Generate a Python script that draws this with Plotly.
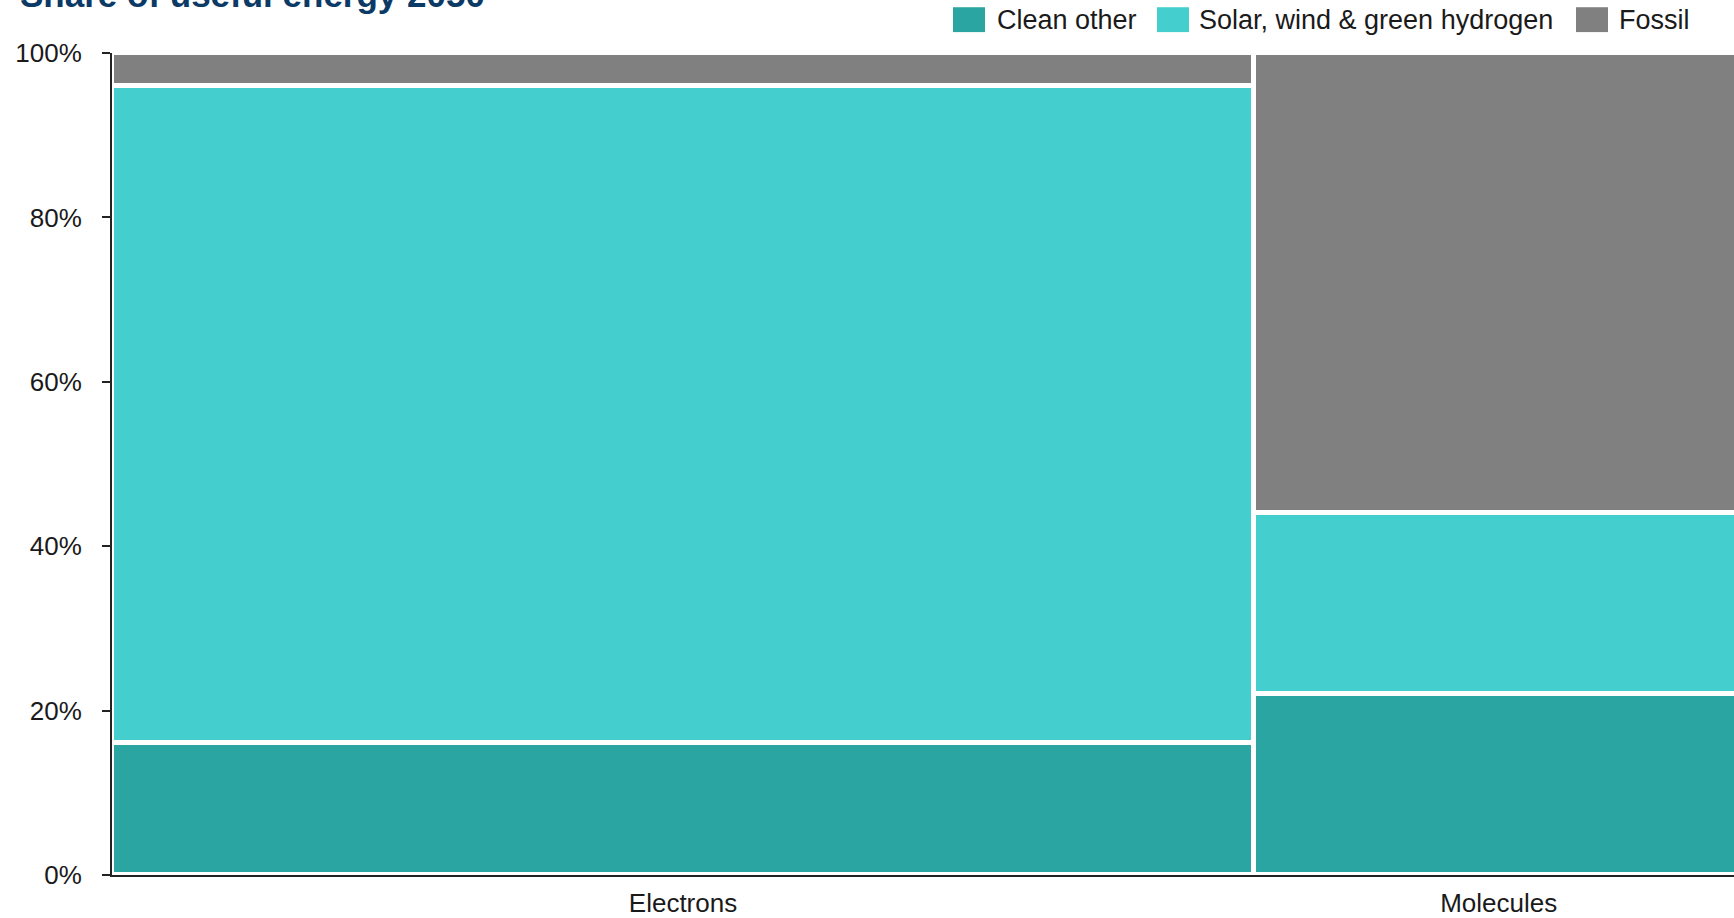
import plotly.graph_objects as go
import numpy as np

# Useful energy 2050: column widths (share of total) and stacked shares per carrier
categories = ["Electrons", "Molecules"]
column_share = [70, 30]

series_names = ["Clean other", "Solar, wind & green hydrogen", "Fossil"]
clean_other = [16, 22]
solar_wind_h2 = [80, 22]
fossil = [4, 56]
series_values = [clean_other, solar_wind_h2, fossil]
series_colors = ["#2aa5a2", "#44cecd", "#808080"]

y_ticks = [0, 20, 40, 60, 80, 100]

FONT = "Liberation Sans, Arial, Helvetica, sans-serif"
W, H = 1734, 918
M_L, M_R, M_T, M_B = 112, 0, 53, 39
PW, PH = W - M_L - M_R, H - M_T - M_B

# Mekko geometry: column lefts/centres from cumulative widths
widths = np.array(column_share, dtype=float)
lefts = np.concatenate([[0], np.cumsum(widths)[:-1]])
centers = lefts + widths / 2

fig = go.Figure()
for name, vals, col in zip(series_names, series_values, series_colors):
    fig.add_trace(go.Bar(
        x=centers, y=vals, width=widths, name=name,
        marker=dict(color=col, line=dict(color="white", width=5)),
        showlegend=False,
    ))

def px_x(px):
    return (px - M_L) / PW

def px_y(py):
    return (H - M_B - py) / PH

# Legend drawn as swatches plus labels across the top right
shapes = []
annotations = []
legend_items = [(953, 985, 995), (1157, 1189, 1197), (1576, 1608, 1617)]
for (sx0, sx1, tx), name, col in zip(legend_items, series_names, series_colors):
    shapes.append(dict(type="rect", xref="paper", yref="paper",
                       x0=px_x(sx0), x1=px_x(sx1), y0=px_y(32), y1=px_y(7),
                       fillcolor=col, line=dict(width=0)))
    annotations.append(dict(x=px_x(tx), y=px_y(20), xref="paper", yref="paper",
                            text=name, showarrow=False, xanchor="left", yanchor="middle",
                            font=dict(family=FONT, size=27, color="#1a1a1a")))

annotations.append(dict(x=px_x(18), y=px_y(-6), xref="paper", yref="paper",
                        text="<b>Share of useful energy 2050</b>", showarrow=False,
                        xanchor="left", yanchor="middle",
                        font=dict(family=FONT, size=35, color="#0b3a66")))

# Visible x range: the Molecules column runs past the right edge
x_max = (W - M_L) / ((1254 - M_L) / widths[0])

fig.update_layout(
    width=W, height=H,
    margin=dict(l=M_L, r=M_R, t=M_T, b=M_B, pad=0),
    barmode="stack", bargap=0,
    plot_bgcolor="white", paper_bgcolor="white",
    font=dict(family=FONT, size=26, color="#1a1a1a"),
    shapes=shapes, annotations=annotations,
    xaxis=dict(range=[0, x_max], tickmode="array", tickvals=centers, ticktext=categories,
               showgrid=False, zeroline=False, showline=True, linecolor="#222222",
               linewidth=2, ticks="", ticklabelstandoff=4,
               tickfont=dict(family=FONT, size=26, color="#1a1a1a")),
    yaxis=dict(range=[0, 100], tickmode="array", tickvals=y_ticks,
               ticktext=[f"{v}%" for v in y_ticks],
               showgrid=False, zeroline=False, showline=True, linecolor="#222222",
               linewidth=2, ticks="outside", ticklen=8, tickcolor="#222222", tickwidth=2,
               ticklabelstandoff=15,
               tickfont=dict(family=FONT, size=26, color="#1a1a1a")),
)

fig.write_html("out.html")
